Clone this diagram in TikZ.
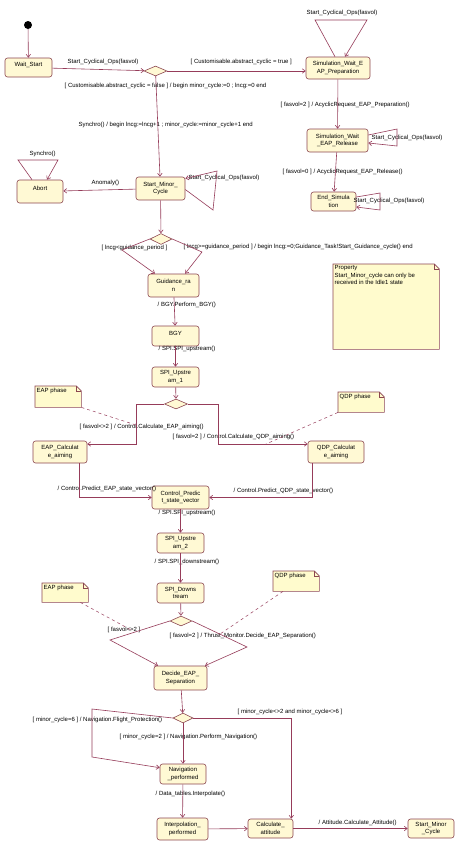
\documentclass[tikz,border=0pt]{standalone}
\usepackage{fontspec}
\setmainfont{Liberation Sans}
\usetikzlibrary{shapes.geometric, arrows.meta, positioning, calc}
\definecolor{linec}{RGB}{150,60,90}
\definecolor{boxc}{RGB}{140,70,80}
\definecolor{fillc}{RGB}{255,249,212}
\definecolor{notefill}{RGB}{255,251,205}
\newcommand{\notebody}[3]{\parbox[c][#2][t]{#1}{\raggedright #3}}

\begin{document}
\begin{tikzpicture}[
    x=1pt, y=-1pt,
    font=\fontsize{6}{7.5}\selectfont,
    state/.style={rectangle, draw=boxc, fill=fillc, rounded corners=2.5pt, align=center, inner sep=1pt, line width=0.6pt},
    oneline/.style={text depth=6pt},
    choice/.style={diamond, draw=boxc, fill=fillc, minimum width=22pt, minimum height=11pt, inner sep=0pt, line width=0.6pt},
    note/.style={rectangle, fill=notefill, inner sep=1.5pt, anchor=north west},
    lbl/.style={inner sep=0.5pt, anchor=west},
    arrow/.style={-{Straight Barb[length=3pt, width=4.5pt]}, draw=linec, line width=0.6pt},
    link/.style={draw=linec, dashed, line width=0.5pt},
]
    \path[fill=white, use as bounding box] (0,0) rectangle (455,841);

    \node[circle, fill=black, minimum size=8pt, inner sep=0pt] (init) at (28,25) {};
    \node[state, oneline, minimum width=47pt, minimum height=19pt] (wait) at (28.5,67.5) {Wait\_Start};
    \node[choice, minimum width=23pt, minimum height=10pt] (d1) at (155.5,71) {};
    \node[state, minimum width=64pt, minimum height=22pt] (simprep) at (338,68) {Simulation\_Wait\_E\\AP\_Preparation};
    \node[state, minimum width=61pt, minimum height=23pt] (simrel) at (337.5,140.5) {Simulation\_Wait\\\_EAP\_Release};
    \node[state, minimum width=45pt, minimum height=19pt] (endsim) at (333.5,201.5) {End\_Simula\\tion};
    \node[state, minimum width=49pt, minimum height=23pt] (smc) at (160.5,188.5) {Start\_Minor\_\\Cycle};
    \node[state, oneline, minimum width=46pt, minimum height=23pt] (abort) at (40,191.5) {Abort};
    \node[choice] (d2) at (161,239) {};
    \node[state, minimum width=51pt, minimum height=23pt] (guid) at (173.5,285.5) {Guidance\_ra\\n};
    \node[state, oneline, minimum width=47pt, minimum height=20pt] (bgy) at (175.5,336) {BGY};
    \node[state, minimum width=47pt, minimum height=20pt] (spi1) at (175.5,377) {SPI\_Upstre\\am\_1};
    \node[choice, minimum width=23pt, minimum height=10pt] (d3) at (176,404) {};
    \node[state, minimum width=54pt, minimum height=22pt] (eapcalc) at (60,452) {EAP\_Calculat\\e\_aiming};
    \node[state, minimum width=56pt, minimum height=22pt] (qdpcalc) at (336,452) {QDP\_Calculat\\e\_aiming};
    \node[state, minimum width=57pt, minimum height=23pt] (ctrl) at (180.5,497.5) {Control\_Predic\\t\_state\_vector};
    \node[state, minimum width=47pt, minimum height=20pt] (spi2) at (180.5,543) {SPI\_Upstre\\am\_2};
    \node[state, minimum width=47pt, minimum height=20pt] (spidown) at (180.5,593) {SPI\_Downs\\tream};
    \node[choice, minimum height=10pt] (d4) at (181,621) {};
    \node[state, minimum width=53pt, minimum height=24pt] (decide) at (180.5,678) {Decide\_EAP\_\\Separation};
    \node[choice, minimum width=20pt, minimum height=10pt] (d5) at (183,718) {};
    \node[state, minimum width=46pt, minimum height=20pt] (nav) at (183,774) {Navigation\\\_performed};
    \node[state, minimum width=51pt, minimum height=22pt] (interp) at (182.5,829) {Interpolation\_\\performed};
    \node[state, minimum width=45pt, minimum height=19pt] (calc) at (270.5,828.5) {Calculate\_\\attitude};
    \node[state, minimum width=46pt, minimum height=19pt] (smcend) at (431,828.5) {Start\_Minor\\\_Cycle};

    \node[note] (prop) at (333,264) {\notebody{103pt}{82pt}{Property\\Start\_Minor\_cycle can only be\\received in the Idle1 state}};
    \node[note] (eap1) at (35,386) {\notebody{43pt}{18pt}{EAP phase}};
    \node[note] (qdp1) at (338,392) {\notebody{43pt}{17pt}{QDP phase}};
    \node[note] (eap2) at (42,583) {\notebody{43pt}{16pt}{EAP phase}};
    \node[note] (qdp2) at (273,571) {\notebody{43pt}{17pt}{QDP phase}};
    \foreach \n in {prop, eap1, qdp1, eap2, qdp2} {
        \fill[white] ([xshift=-5pt]\n.north east) -- (\n.north east) -- ([yshift=-5pt]\n.north east) -- cycle;
        \draw[boxc, line width=0.6pt] (\n.north west) -- ([xshift=-5pt]\n.north east) -- ([yshift=-5pt]\n.north east) -- (\n.south east) -- (\n.south west) -- cycle;
        \draw[boxc, line width=0.5pt] ([xshift=-5pt]\n.north east) |- ([yshift=-5pt]\n.north east);
    }

    \node[lbl] (lab1) at (67,62) {Start\_Cyclical\_Ops(fasvol)};
    \node[lbl] (lab2) at (190,62) {[ Customisable.abstract\_cyclic = true ]};
    \node[lbl] (lab3) at (64,86) {[ Customisable.abstract\_cyclic = false ] / begin minor\_cycle:=0 ; lncg:=0 end};
    \node[lbl] (lab4) at (78,125) {Synchro() / begin lncg:=lncg+1 ; minor\_cycle:=minor\_cycle+1 end};
    \node[lbl] (lab5) at (306,13) {Start\_Cyclical\_Ops(fasvol)};
    \node[lbl] (lab6) at (280,105) {[ fasvol=2 ] / AcyclicRequest\_EAP\_Preparation()};
    \node[lbl] (lab7) at (371,138) {Start\_Cyclical\_Ops(fasvol)};
    \node[lbl] (lab8) at (282,172) {[ fasvol=0 ] / AcyclicRequest\_EAP\_Release()};
    \node[lbl] (lab9) at (353,201) {Start\_Cyclical\_Ops(fasvol)};
    \node[lbl] (lab10) at (29,154) {Synchro()};
    \node[lbl] (lab11) at (91,183) {Anomaly()};
    \node[lbl] (lab12) at (188,178) {Start\_Cyclical\_Ops(fasvol)};
    \node[lbl] (lab13) at (101,248) {[ lncg<guidance\_period ]};
    \node[lbl] (lab14) at (183,247) {[ lncg>=guidance\_period ] / begin lncg:=0;Guidance\_Task!Start\_Guidance\_cycle() end};
    \node[lbl] (lab15) at (157,305) {/ BGY.Perform\_BGY()};
    \node[lbl] (lab16) at (158,349) {/ SPI.SPI\_upstream()};
    \node[lbl] (lab17) at (79,427) {[ fasvol<>2 ] / Control.Calculate\_EAP\_aiming()};
    \node[lbl] (lab18) at (172,437) {[ fasvol=2 ] / Control.Calculate\_QDP\_aiming()};
    \node[lbl] (lab19) at (57,489) {/ Control.Predict\_EAP\_state\_vector()};
    \node[lbl] (lab20) at (233,491) {/ Control.Predict\_QDP\_state\_vector()};
    \node[lbl] (lab21) at (158,513) {/ SPI.SPI\_upstream()};
    \node[lbl] (lab22) at (154,562) {/ SPI.SPI\_downstream()};
    \node[lbl] (lab23) at (107,630) {[ fasvol<>2 ]};
    \node[lbl] (lab24) at (169,636) {[ fasvol=2 ] / Thrust\_Monitor.Decide\_EAP\_Separation()};
    \node[lbl] (lab25) at (32,720) {[ minor\_cycle=6 ] / Navigation.Flight\_Protection()};
    \node[lbl] (lab26) at (119,737) {[ minor\_cycle=2 ] / Navigation.Perform\_Navigation()};
    \node[lbl] (lab27) at (237,712) {[ minor\_cycle<>2 and minor\_cycle<>6 ]};
    \node[lbl] (lab28) at (155,794) {/ Data\_tables.Interpolate()};
    \node[lbl] (lab29) at (318,823) {/ Attitude.Calculate\_Attitude()};

    \draw[arrow] (init) -- (wait);
    \draw[arrow] (wait) -- (d1);
    \draw[arrow] (d1.east) -- (d1.east -| simprep.west);
    \draw[arrow] (d1) -- (smc);
    \draw[arrow] ([xshift=-3pt]simprep.north) -- (315,20) -- (367,20) -- ([xshift=7pt]simprep.north);
    \draw[arrow] (simprep) -- (simrel);
    \draw[arrow] ([yshift=5.5pt]simrel.east) -- (397,129) -- (397,146) -- ([yshift=-2.5pt]simrel.east);
    \draw[arrow] (simrel) -- (endsim);
    \draw[arrow] ([yshift=4.5pt]endsim.east) -- (380,193) -- (380,210) -- ([yshift=-5.5pt]endsim.east);
    \draw[arrow] ([yshift=-1pt]smc.east) -- (213,210) -- (217,171) -- ([yshift=10pt]smc.east);
    \draw[arrow] ([xshift=-8pt]abort.north) -- (18,160) -- (58,160) -- ([xshift=7pt]abort.north);
    \draw[arrow] (smc) -- (abort);
    \draw[arrow] (smc) -- (d2);
    \draw[arrow] (d2.west) -- (122,250) -- ([xshift=-18.5pt]guid.north);
    \draw[arrow] (d2.east) -- (202,252) -- ([xshift=11.5pt]guid.north);
    \draw[arrow] (guid) -- (bgy);
    \draw[arrow] (bgy) -- (spi1);
    \draw[arrow] (spi1) -- (d3);
    \draw[arrow] (d3.west) -| (136,444) -- ([yshift=8pt]eapcalc.east);
    \draw[arrow] (d3.east) -| (218,444) -- ([yshift=8pt]qdpcalc.west);
    \draw[arrow] ([xshift=19pt]eapcalc.south) |- (ctrl.west);
    \draw[arrow] ([xshift=-24pt]qdpcalc.south) |- (ctrl.east);
    \draw[arrow] (ctrl) -- (spi2);
    \draw[arrow] (spi2) -- (spidown);
    \draw[arrow] (spidown) -- (d4);
    \draw[arrow] (d4.west) -- (110,640) -- ([xshift=-22.5pt]decide.north);
    \draw[arrow] (d4.east) -- (247,647) -- ([xshift=24.5pt]decide.north);
    \draw[arrow] (decide) -- (d5);
    \draw[arrow] (d5.west) -- (92,709) -- (92,757) -- ([yshift=-4pt]nav.north west);
    \draw[arrow] (d5) -- (nav);
    \draw[arrow] (d5.east) -| ([xshift=-2pt]calc.north east);
    \draw[arrow] (nav) -- (interp);
    \draw[arrow] (interp) -- (calc);
    \draw[arrow] (calc) -- (smcend);

    \coordinate (e1) at (136,425);
    \coordinate (q1) at (266,444);
    \coordinate (e2) at (133,631);
    \coordinate (q2) at (220,634);
    \draw[link] (eap1.south east) -- (e1);
    \draw[link] (qdp1.south west) -- (q1);
    \draw[link] ([xshift=-8pt]eap2.south east) -- (e2);
    \draw[link] ([xshift=10pt]qdp2.south west) -- (q2);
\end{tikzpicture}
\end{document}
